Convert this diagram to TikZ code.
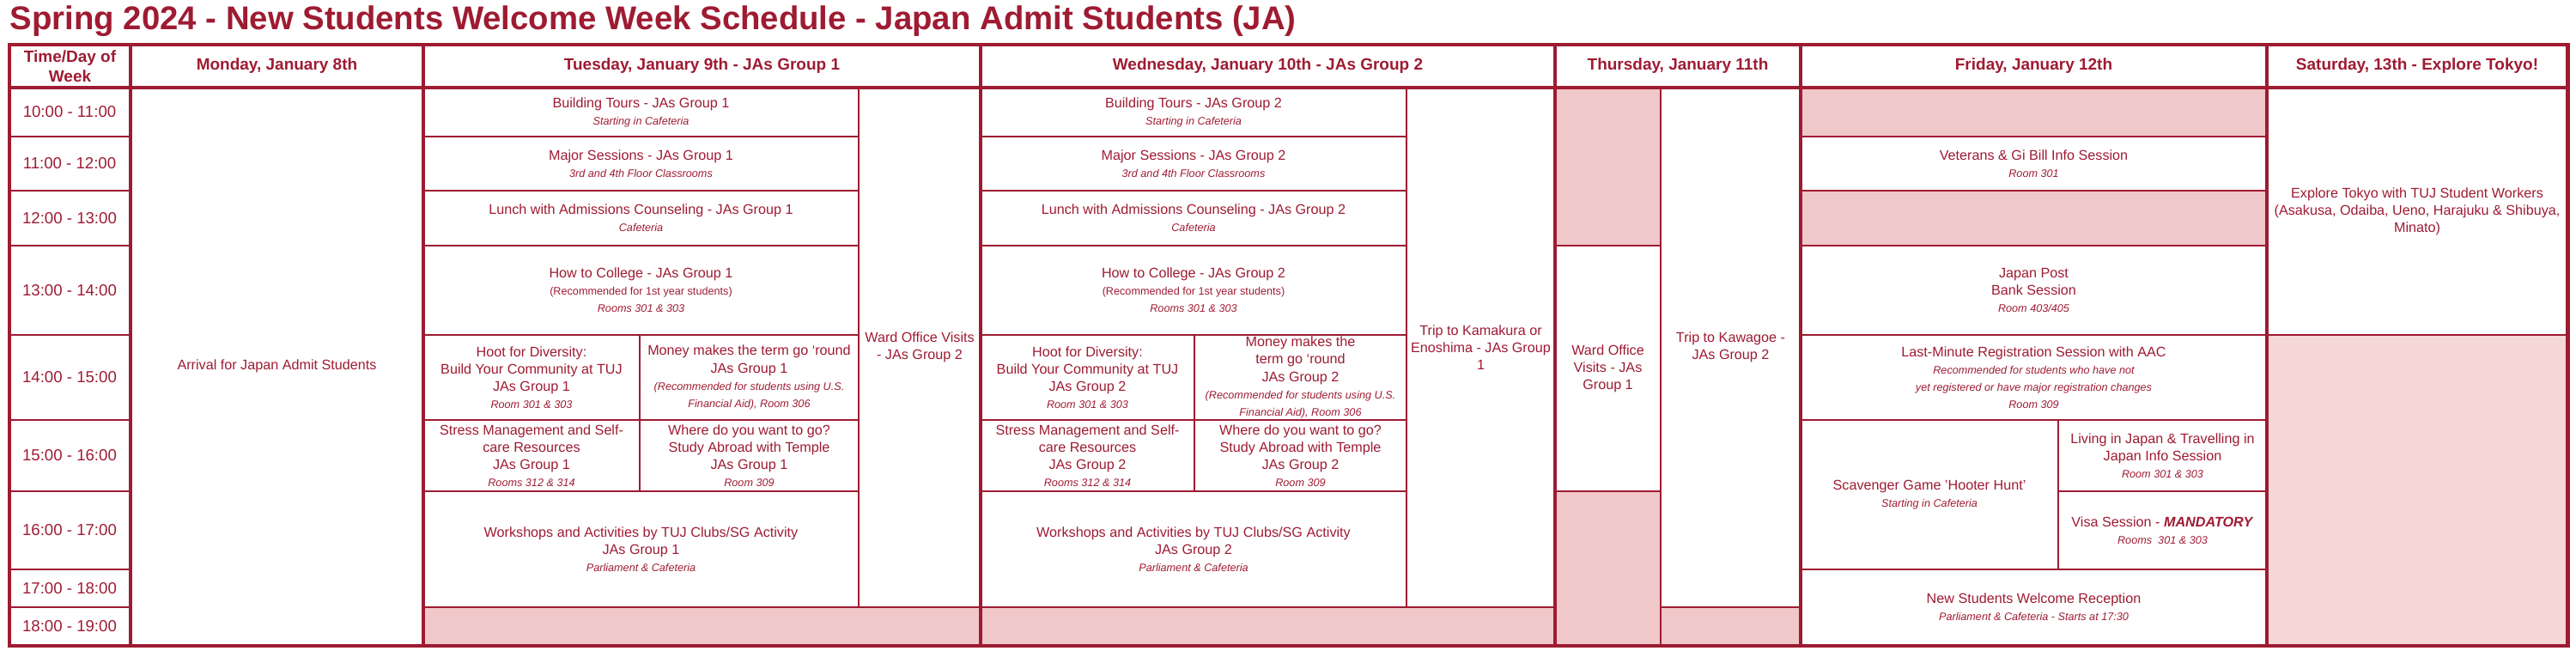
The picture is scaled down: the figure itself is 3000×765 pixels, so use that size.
\documentclass[tikz,border=0pt]{standalone}
\usepackage{fontspec}
\setmainfont{Liberation Sans}
\definecolor{tujred}{HTML}{9E1B32}
\definecolor{blankpink}{HTML}{F0C8C9}
\definecolor{satpink}{HTML}{F4D7D6}
\newcommand{\sub}[1]{{\fontsize{3.6}{4.3}\selectfont\itshape #1}}
\newcommand{\rec}[1]{{\fontsize{3.6}{4.3}\selectfont #1}}
% named cell with text at its centre
\newcommand{\cell}[7][celltext]{\draw[cellbox] (#3,#4) rectangle (#5,#6);
  \node[#1] (#2) at ({(#3+#5)/2},{(#4+#6)/2}) {#7};}
% empty pink slot
\newcommand{\blank}[5][blankpink]{\filldraw[cellbox, fill=#1] (#2,#3) rectangle (#4,#5);}
\begin{document}
\begin{tikzpicture}[x=0.01cm, y=-0.01cm,
  cellbox/.style={draw=tujred, line width=0.5pt},
  celltext/.style={text=tujred, align=center, font=\fontsize{4.6}{5.7}\selectfont, inner sep=0pt},
  headtext/.style={celltext, font=\fontsize{5.4}{6.6}\selectfont\bfseries},
  timetext/.style={celltext, font=\fontsize{5.3}{6.4}\selectfont}]
\useasboundingbox (0,0) rectangle (3000,765);

\node[anchor=west, text=tujred, font=\fontsize{10.9}{12}\selectfont\bfseries, inner sep=0pt] (title) at (11,25)
  {Spring 2024 - New Students Welcome Week Schedule - Japan Admit Students (JA)};

% header row
\cell[headtext]{hTime}{11}{52}{152}{102}{Time/Day of\\Week}
\cell[headtext]{hMon}{152}{52}{493}{102}{Monday, January 8th}
\cell[headtext]{hTue}{493}{52}{1142}{102}{Tuesday, January 9th - JAs Group 1}
\cell[headtext]{hWed}{1142}{52}{1811}{102}{Wednesday, January 10th - JAs Group 2}
\cell[headtext]{hThu}{1811}{52}{2097}{102}{Thursday, January 11th}
\cell[headtext]{hFri}{2097}{52}{2640}{102}{Friday, January 12th}
\cell[headtext]{hSat}{2640}{52}{2990}{102}{Saturday, 13th - Explore Tokyo!}

% time column
\foreach \t/\a/\b [count=\i] in {10:00 - 11:00/102/159, 11:00 - 12:00/159/222,
  12:00 - 13:00/222/286, 13:00 - 14:00/286/390, 14:00 - 15:00/390/489,
  15:00 - 16:00/489/572, 16:00 - 17:00/572/663, 17:00 - 18:00/663/707,
  18:00 - 19:00/707/751}
  {\draw[cellbox] (11,\a) rectangle (152,\b);
   \node[timetext] (time\i) at (81,{(\a+\b)/2}) {\t};}

% Monday
\cell{arrival}{152}{102}{493}{751}{Arrival for Japan Admit Students}

% Tuesday
\cell{tueTour}{493}{102}{1000}{159}{Building Tours - JAs Group 1\\\sub{Starting in Cafeteria}}
\cell{tueMajor}{493}{159}{1000}{222}{Major Sessions - JAs Group 1\\\sub{3rd and 4th Floor Classrooms}}
\cell{tueLunch}{493}{222}{1000}{286}{Lunch with Admissions Counseling - JAs Group 1\\\sub{Cafeteria}}
\cell{tueHow}{493}{286}{1000}{390}{How to College - JAs Group 1\\\rec{(Recommended for 1st year students)}\\\sub{Rooms 301 \& 303}}
\cell{tueHoot}{493}{390}{745}{489}{Hoot for Diversity:\\Build Your Community at TUJ\\JAs Group 1\\\sub{Room 301 \& 303}}
\cell{tueMoney}{745}{390}{1000}{489}{Money makes the term go ‘round\\JAs Group 1\\\sub{(Recommended for students using U.S.}\\\sub{Financial Aid), Room 306}}
\cell{tueStress}{493}{489}{745}{572}{Stress Management and Self-\\care Resources\\JAs Group 1\\\sub{Rooms 312 \& 314}}
\cell{tueAbroad}{745}{489}{1000}{572}{Where do you want to go?\\Study Abroad with Temple\\JAs Group 1\\\sub{Room 309}}
\cell{tueClubs}{493}{572}{1000}{707}{Workshops and Activities by TUJ Clubs/SG Activity\\JAs Group 1\\\sub{Parliament \& Cafeteria}}
\cell{tueWard}{1000}{102}{1142}{707}{Ward Office Visits\\- JAs Group 2}
\blank{493}{707}{1142}{751}

% Wednesday
\cell{wedTour}{1142}{102}{1638}{159}{Building Tours - JAs Group 2\\\sub{Starting in Cafeteria}}
\cell{wedMajor}{1142}{159}{1638}{222}{Major Sessions - JAs Group 2\\\sub{3rd and 4th Floor Classrooms}}
\cell{wedLunch}{1142}{222}{1638}{286}{Lunch with Admissions Counseling - JAs Group 2\\\sub{Cafeteria}}
\cell{wedHow}{1142}{286}{1638}{390}{How to College - JAs Group 2\\\rec{(Recommended for 1st year students)}\\\sub{Rooms 301 \& 303}}
\cell{wedHoot}{1142}{390}{1391}{489}{Hoot for Diversity:\\Build Your Community at TUJ\\JAs Group 2\\\sub{Room 301 \& 303}}
\cell{wedMoney}{1391}{390}{1638}{489}{Money makes the\\term go ‘round\\JAs Group 2\\\sub{(Recommended for students using U.S.}\\\sub{Financial Aid), Room 306}}
\cell{wedStress}{1142}{489}{1391}{572}{Stress Management and Self-\\care Resources\\JAs Group 2\\\sub{Rooms 312 \& 314}}
\cell{wedAbroad}{1391}{489}{1638}{572}{Where do you want to go?\\Study Abroad with Temple\\JAs Group 2\\\sub{Room 309}}
\cell{wedClubs}{1142}{572}{1638}{707}{Workshops and Activities by TUJ Clubs/SG Activity\\JAs Group 2\\\sub{Parliament \& Cafeteria}}
\cell{wedTrip}{1638}{102}{1811}{707}{Trip to Kamakura or\\Enoshima - JAs Group\\1}
\blank{1142}{707}{1811}{751}

% Thursday
\blank{1811}{102}{1934}{286}
\cell{thuWard}{1811}{286}{1934}{572}{Ward Office\\Visits - JAs\\Group 1}
\blank{1811}{572}{1934}{751}
\cell{thuTrip}{1934}{102}{2097}{707}{Trip to Kawagoe -\\JAs Group 2}
\blank{1934}{707}{2097}{751}

% Friday
\blank{2097}{102}{2640}{159}
\cell{friVet}{2097}{159}{2640}{222}{Veterans \& Gi Bill Info Session\\\sub{Room 301}}
\blank{2097}{222}{2640}{286}
\cell{friPost}{2097}{286}{2640}{390}{Japan Post\\Bank Session\\\sub{Room 403/405}}
\cell{friReg}{2097}{390}{2640}{489}{Last-Minute Registration Session with AAC\\\sub{Recommended for students who have not}\\\sub{yet registered or have major registration changes}\\\sub{Room 309}}
\cell{friHunt}{2097}{489}{2397}{663}{Scavenger Game 'Hooter Hunt'\\\sub{Starting in Cafeteria}}
\cell{friLiving}{2397}{489}{2640}{572}{Living in Japan \& Travelling in\\Japan Info Session\\\sub{Room 301 \& 303}}
\cell{friVisa}{2397}{572}{2640}{663}{Visa Session - \textbf{\textit{MANDATORY}}\\\sub{Rooms\ \ 301 \& 303}}
\cell{friWelcome}{2097}{663}{2640}{751}{New Students Welcome Reception\\\sub{Parliament \& Cafeteria - Starts at 17:30}}

% Saturday
\cell{satTokyo}{2640}{102}{2990}{390}{Explore Tokyo with TUJ Student Workers\\(Asakusa, Odaiba, Ueno, Harajuku \& Shibuya,\\Minato)}
\blank[satpink]{2640}{390}{2990}{751}

% heavy frame
\foreach \x in {152,493,1142,1811,2097,2640}
  \draw[tujred, line width=1.2pt] (\x,52) -- (\x,752);
\draw[tujred, line width=1.2pt] (11,102) -- (2990,102);
\draw[tujred, line width=1.4pt] (11,52) rectangle (2990,752);
\end{tikzpicture}
\end{document}
